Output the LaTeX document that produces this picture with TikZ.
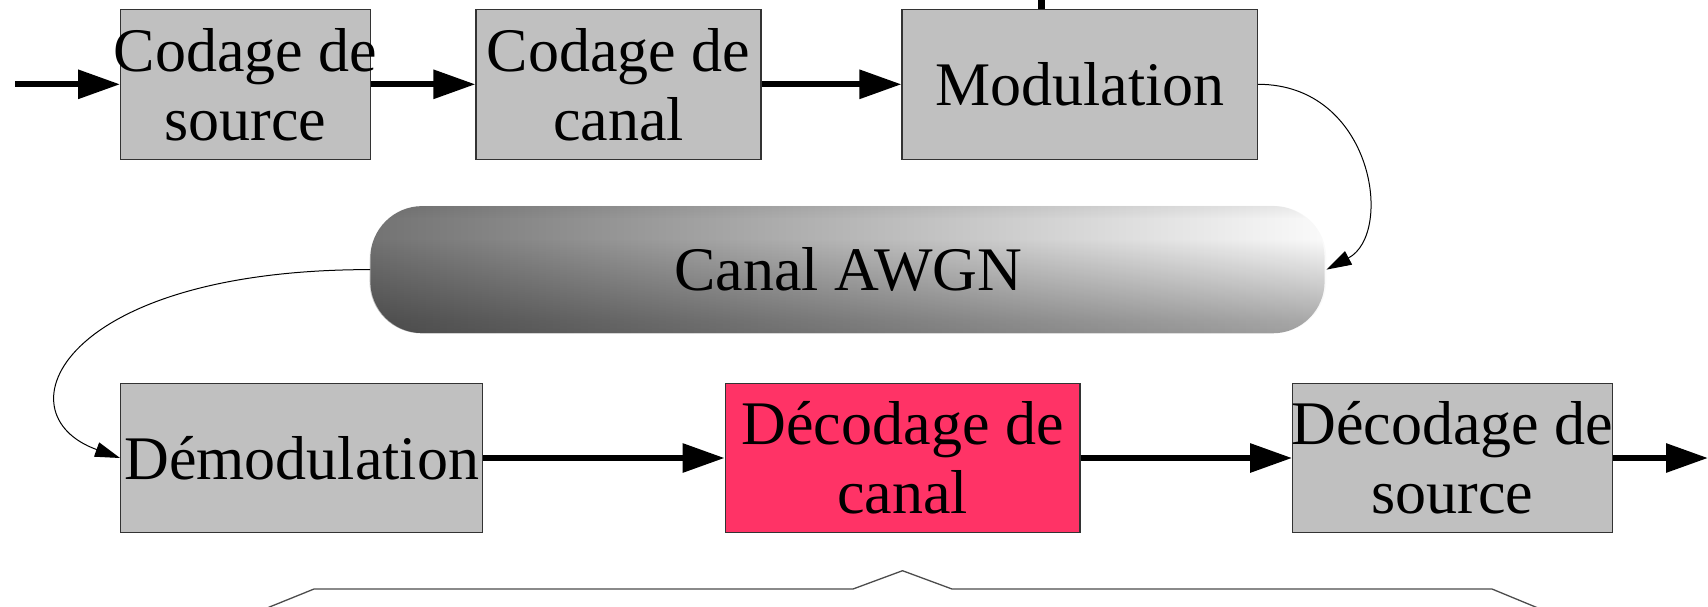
\documentclass[tikz,border=0pt]{standalone}
\usepackage{fontspec}
\setmainfont{Liberation Serif}
\usetikzlibrary{arrows.meta,fadings}

\definecolor{boxgray}{HTML}{C0C0C0}
\definecolor{decpink}{HTML}{FF3366}

% vertical darkening of the channel tube: light band a third from the top
\pgfdeclareverticalshading{tubemask}{100bp}{%
  color(0bp)=(black!50); color(30bp)=(black!68); color(62bp)=(black);
  color(70bp)=(black); color(100bp)=(black!68)}
\pgfdeclarefading{tubefade}{\pgfuseshading{tubemask}}

\tikzset{
  blockbox/.style={draw=black!80, line width=1.2pt, fill=boxgray,
    inner sep=0pt, minimum height=150pt},
  lbl/.style={font=\fontsize{62}{69}\selectfont, align=center, inner sep=0pt},
  flow/.style={line width=6pt, -{Triangle[length=42pt,width=28pt]}},
  link/.style={line width=1pt, -{Triangle[length=25pt,width=15pt]}},
  tube/.style={inner sep=0pt, minimum width=956pt, minimum height=127pt,
    rounded corners=52pt, left color=black!55, middle color=black!30,
    right color=black!2},
  bracket/.style={draw=black!70, line width=1.3pt},
}

\begin{document}
\begin{tikzpicture}[x=1pt,y=-1pt]
\useasboundingbox (0,0) rectangle (1708,606);

% transmitter chain
\node[blockbox, minimum width=249.6pt] (cs) at (245.5,84.3) {};
\node[lbl] (cs-t) at (cs) {Codage de\\source};
\node[blockbox, minimum width=285pt] (cc) at (618.5,84.3) {};
\node[lbl] (cc-t) at (cc) {Codage de\\canal};
\node[blockbox, minimum width=355.5pt] (mod) at (1079.8,84.3) {};
\node[lbl] (mod-t) at (mod) {Modulation};

% channel
\node[tube] (awgn) at (848.3,269.6) {};
\fill[black, path fading=tubefade, rounded corners=52pt]
  (awgn.south west) rectangle (awgn.north east);
\node[lbl] (awgn-t) at (awgn) {Canal AWGN};

% receiver chain
\node[blockbox, minimum width=362pt, minimum height=149pt] (dm) at (301.7,458) {};
\node[lbl] (dm-t) at (dm) {Démodulation};
\node[blockbox, fill=decpink, minimum width=354.8pt, minimum height=149pt] (dc) at (902.6,458) {};
\node[lbl] (dc-t) at (dc) {Décodage de\\canal};
\node[blockbox, minimum width=319.6pt, minimum height=149pt] (ds) at (1452.5,458) {};
\node[lbl] (ds-t) at (ds) {Décodage de\\source};

% free ends
\coordinate (in) at (15,84.3);
\coordinate (out) at (1708,458);
\coordinate (feed) at (1041.5,0);

% data flow
\draw[flow] (in) -- (cs.west);
\draw[flow] (cs.east) -- (cc.west);
\draw[flow] (cc.east) -- (mod.west);
\draw[line width=7pt] (feed) -- (feed |- mod.north);
\draw[link] (mod.east) .. controls +(115,0) and +(68,-36) .. (awgn.east);
\draw[link] (awgn.west) .. controls +(-310,0) and +(-122,-44) .. (dm.west);
\draw[flow] (dm.east) -- (dc.west);
\draw[flow] (dc.east) -- (ds.west);
\draw[flow] (ds.east) -- (out);

% brace under the receiver
\draw[bracket] (267,608) -- (314,589) -- (853,589) -- (902.5,570.7)
  -- (952,589) -- (1492,589) -- (1538,608);
\end{tikzpicture}
\end{document}
